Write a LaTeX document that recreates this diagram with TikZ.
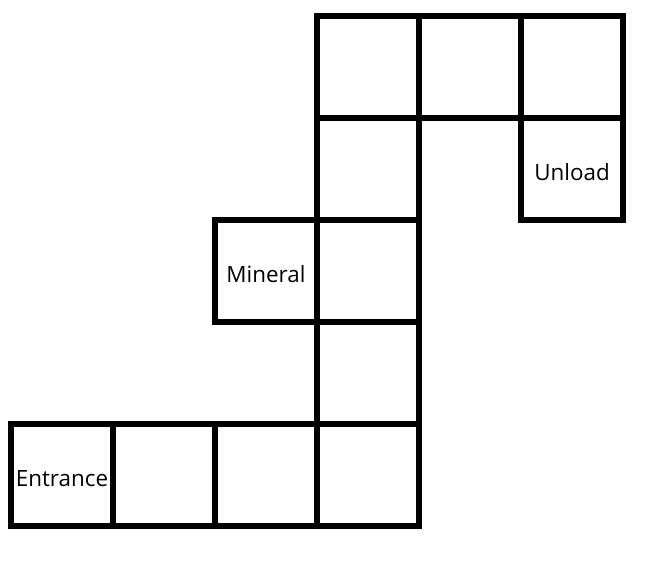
\documentclass[tikz,border=0pt]{standalone}
\usepackage{fontspec}
\setmainfont{Open Sans}
\usetikzlibrary{positioning}

\begin{document}
\begin{tikzpicture}[
x=0.75pt,y=-0.75pt,
cell/.style={
  draw,
  line width=4pt,
  minimum size=76.5pt,
  inner sep=0pt,
  outer sep=0pt,
  text height=17pt,
  text depth=0pt,
  font=\fontsize{16.8}{19}\selectfont
},
node distance=0pt
]
\useasboundingbox (0,0) rectangle (649,567);
% bottom row
\node[cell] (entrance) at (62,475) {Entrance};
\node[cell,right=of entrance] (b1) {};
\node[cell,right=of b1] (b2) {};
\node[cell,right=of b2] (b3) {};
% column going up
\node[cell,above=of b3] (c3) {};
\node[cell,above=of c3] (c2) {};
\node[cell,left=of c2] (mineral) {Mineral};
\node[cell,above=of c2] (c1) {};
\node[cell,above=of c1] (c0) {};
% top row
\node[cell,right=of c0] (t1) {};
\node[cell,right=of t1] (t2) {};
\node[cell,below=of t2] (unload) {Unload};
\end{tikzpicture}
\end{document}
